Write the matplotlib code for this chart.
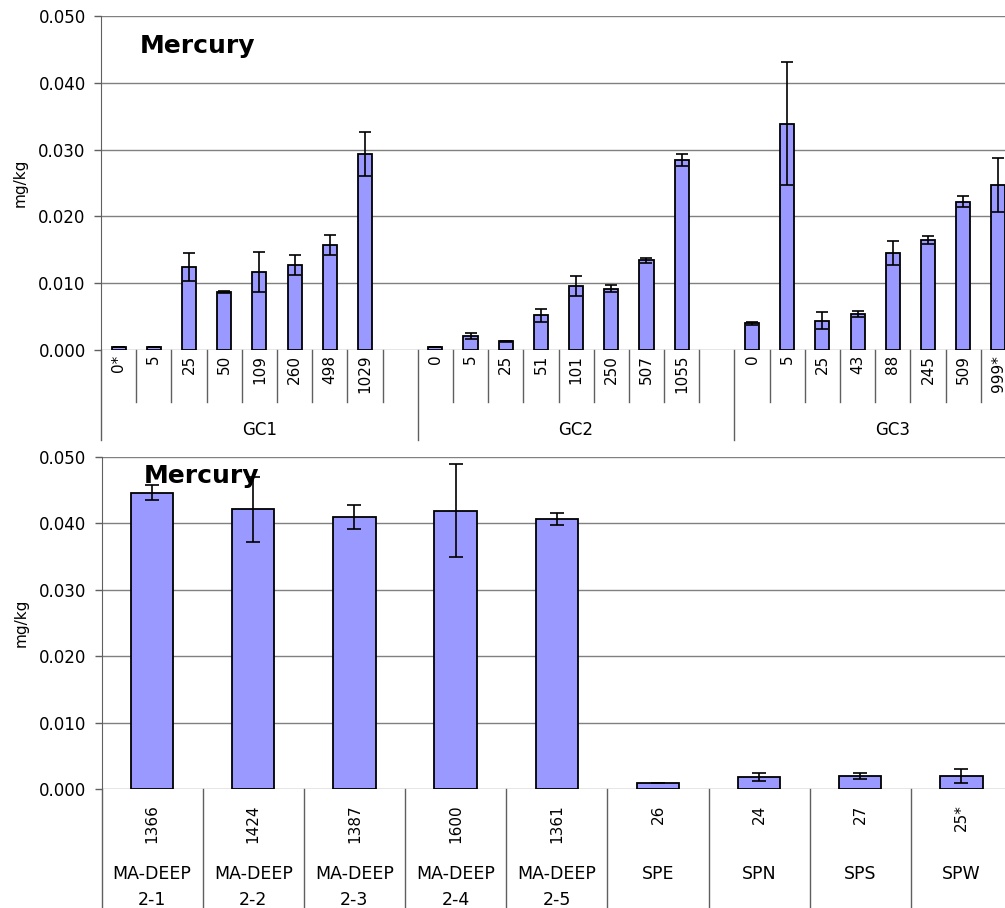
import numpy as np
import matplotlib.pyplot as plt
import matplotlib.transforms as mtransforms
from matplotlib.ticker import FormatStrFormatter

# gravity cores: sample depth labels, mercury mean and error (mg/kg)
gc_groups = ['GC1', 'GC2', 'GC3']
gc1_depths = ['0*', '5', '25', '50', '109', '260', '498', '1029']
gc1_hg = [0.0004, 0.0004, 0.0124, 0.0087, 0.0117, 0.0127, 0.0157, 0.0293]
gc1_err = [0.0, 0.0, 0.0021, 0.0001, 0.0030, 0.0015, 0.0015, 0.0033]
gc2_depths = ['0', '5', '25', '51', '101', '250', '507', '1055']
gc2_hg = [0.0004, 0.0021, 0.0013, 0.0052, 0.0096, 0.0092, 0.0134, 0.0284]
gc2_err = [0.0, 0.0005, 0.0001, 0.0010, 0.0015, 0.0005, 0.0004, 0.0009]
gc3_depths = ['0', '5', '25', '43', '88', '245', '509', '999*']
gc3_hg = [0.0040, 0.0339, 0.0044, 0.0054, 0.0145, 0.0164, 0.0222, 0.0247]
gc3_err = [0.0002, 0.0092, 0.0013, 0.0005, 0.0018, 0.0006, 0.0008, 0.0040]

# deep stations and surface samples
site_names = ['MA-DEEP\n2-1', 'MA-DEEP\n2-2', 'MA-DEEP\n2-3', 'MA-DEEP\n2-4',
              'MA-DEEP\n2-5', 'SPE', 'SPN', 'SPS', 'SPW']
site_depths = ['1366', '1424', '1387', '1600', '1361', '26', '24', '27', '25*']
site_hg = [0.0446, 0.0421, 0.0409, 0.0419, 0.0407, 0.00095, 0.0018, 0.0020, 0.0020]
site_err = [0.0011, 0.0049, 0.0018, 0.0070, 0.0009, 0.00005, 0.0006, 0.0004, 0.0010]

bar_color = '#9999FF'
line_color = '#606060'

fig = plt.figure(figsize=(10.05, 9.08), dpi=100)
ax1 = fig.add_axes([101 / 1005, (908 - 350) / 908, 915 / 1005, 334 / 908])
ax2 = fig.add_axes([101.5 / 1005, (908 - 789.3) / 908, 910.5 / 1005, 332.6 / 908])


def style_axes(ax):
    ax.set_ylim(0, 0.05)
    ax.set_yticks(np.arange(0, 0.0501, 0.01))
    ax.yaxis.set_major_formatter(FormatStrFormatter('%.3f'))
    ax.yaxis.grid(True, color='#808080', lw=1)
    ax.set_axisbelow(True)
    for s in ['top', 'right', 'bottom']:
        ax.spines[s].set_visible(False)
    ax.spines['left'].set_color(line_color)
    ax.tick_params(axis='y', direction='out', length=5, width=1,
                   color=line_color, labelsize=12, pad=6)
    ax.tick_params(axis='x', length=0, labelsize=11)
    ax.set_ylabel('mg/kg', fontsize=11)


def separator(ax, x, depth):
    trans = mtransforms.blended_transform_factory(ax.transData, ax.transAxes)
    ax.plot([x, x], [0, -depth], transform=trans, clip_on=False,
            color=line_color, lw=1)


err_style = dict(ecolor='black', elinewidth=1.2, capthick=1.2)

# --- top panel: cores, 9 slots per group (last one blank)
style_axes(ax1)
depths = [gc1_depths, gc2_depths, gc3_depths]
values = [gc1_hg, gc2_hg, gc3_hg]
errors = [gc1_err, gc2_err, gc3_err]
tick_pos, tick_lab = [], []
for g in range(3):
    pos = [g * 9 + i for i in range(len(depths[g]))]
    ax1.bar(pos, values[g], width=0.4, color=bar_color, edgecolor='black',
            lw=1.3, yerr=errors[g], capsize=4.5, error_kw=err_style)
    tick_pos += pos
    tick_lab += depths[g]
    ax1.text(g * 9 + 4, -85 / 334, gc_groups[g], ha='center', va='baseline',
             fontsize=12, transform=mtransforms.blended_transform_factory(
                 ax1.transData, ax1.transAxes))
ax1.set_xticks(tick_pos, tick_lab, rotation=90)
ax1.tick_params(axis='x', pad=3.5)
ax1.set_xlim(-0.5, 25.5)
for k in range(27):
    x = k - 0.5
    separator(ax1, x, 90 / 334 if k % 9 == 0 else 52 / 334)
ax1.yaxis.set_label_coords(-0.08, 0.5)
ax1.text(0.0426, 0.889, 'Mercury', transform=ax1.transAxes, fontsize=18,
         fontweight='bold', va='baseline')

# --- bottom panel: deep stations and surface samples
style_axes(ax2)
pos2 = np.arange(len(site_names))
ax2.bar(pos2, site_hg, width=0.42, color=bar_color, edgecolor='black',
        lw=1.3, yerr=site_err, capsize=5, error_kw=err_style)
ax2.set_xticks(pos2, site_depths, rotation=90)
ax2.tick_params(axis='x', pad=11)
ax2.set_xlim(-0.5, 8.5)
trans2 = mtransforms.blended_transform_factory(ax2.transData, ax2.transAxes)
for i, name in enumerate(site_names):
    for j, line in enumerate(name.split('\n')):
        ax2.text(i, -(89.7 + 26 * j) / 332.6, line, ha='center',
                 va='baseline', fontsize=12.5, transform=trans2)
for k in range(10):
    separator(ax2, k - 0.5, 0.4)
ax2.yaxis.set_label_coords(-0.08, 0.5)
ax2.text(0.0459, 0.92, 'Mercury', transform=ax2.transAxes, fontsize=18,
         fontweight='bold', va='baseline')

fig.savefig('out.png', dpi=100)
